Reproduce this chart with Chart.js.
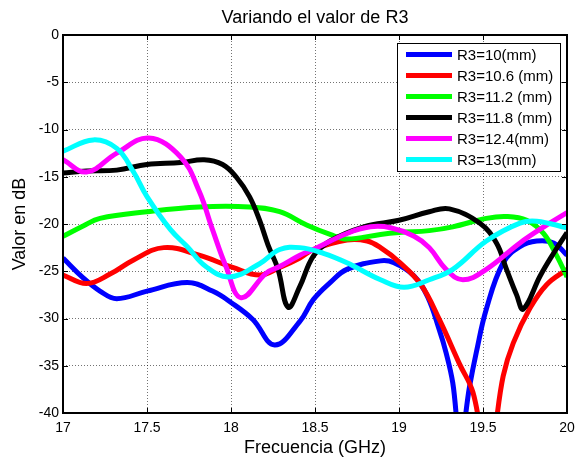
<!DOCTYPE html>
<html>
<head>
<meta charset="utf-8">
<script src="https://cdn.jsdelivr.net/npm/chart.js@4/dist/chart.umd.min.js"></script>
<style>
  html, body { margin: 0; padding: 0; background: #fff; }
  canvas { display: block; }
</style>
</head>
<body>
<canvas id="r3Chart" width="576" height="460"></canvas>
<script>
// Return loss vs frequency for each R3 value (GHz / dB)
const f10 = [17.00, 17.12, 17.22, 17.32, 17.50, 17.74, 17.89, 18.00, 18.13, 18.26, 18.41, 18.49, 18.59, 18.69, 18.89, 18.97, 19.09, 19.17, 19.24, 19.28, 19.32, 19.365, 19.42, 19.46, 19.52, 19.62, 19.72, 19.82, 19.92, 20.00];
const db10 = [-23.6, -25.7, -27.1, -27.9, -27.1, -26.2, -27.1, -28.3, -30.1, -32.8, -30.3, -28.0, -26.2, -24.8, -23.9, -24.1, -25.5, -27.7, -31.2, -33.6, -36.8, -43.0, -37.2, -33.6, -29.0, -24.1, -22.4, -21.8, -22.0, -23.3];

const f106 = [17.00, 17.14, 17.28, 17.42, 17.60, 17.81, 18.01, 18.17, 18.29, 18.41, 18.49, 18.69, 18.81, 18.89, 19.00, 19.13, 19.24, 19.36, 19.44, 19.53, 19.62, 19.68, 19.78, 19.88, 20.00];
const db106 = [-25.4, -26.3, -25.3, -23.8, -22.5, -23.3, -24.6, -25.4, -24.6, -23.6, -22.7, -21.7, -21.8, -22.5, -24.0, -26.4, -30.1, -34.8, -37.8, -45.0, -36.1, -32.6, -28.9, -26.4, -24.8];

const f112 = [17.00, 17.12, 17.22, 17.50, 17.81, 18.11, 18.29, 18.45, 18.59, 18.69, 18.89, 19.00, 19.18, 19.32, 19.52, 19.64, 19.76, 19.86, 19.94, 20.00];
const db112 = [-21.3, -20.2, -19.4, -18.7, -18.2, -18.2, -18.7, -20.1, -21.1, -21.6, -21.1, -20.9, -20.7, -20.3, -19.4, -19.2, -19.6, -21.0, -23.4, -25.6];

const f118 = [17.00, 17.14, 17.32, 17.50, 17.70, 17.84, 17.95, 18.03, 18.11, 18.17, 18.22, 18.28, 18.34, 18.41, 18.49, 18.59, 18.79, 19.00, 19.18, 19.30, 19.48, 19.58, 19.64, 19.70, 19.74, 19.84, 19.92, 20.00];
const db118 = [-14.6, -14.4, -14.3, -13.7, -13.5, -13.2, -13.7, -15.0, -17.1, -19.6, -22.2, -24.8, -28.8, -26.6, -23.4, -21.8, -20.3, -19.6, -18.7, -18.4, -19.9, -22.0, -24.8, -27.5, -29.0, -25.5, -23.1, -20.9];

const f124 = [17.00, 17.14, 17.32, 17.51, 17.70, 17.81, 17.89, 17.97, 18.06, 18.21, 18.29, 18.41, 18.49, 18.69, 18.83, 18.95, 19.09, 19.18, 19.28, 19.38, 19.52, 19.72, 19.88, 20.00];
const db124 = [-13.2, -14.5, -12.5, -10.9, -12.9, -16.5, -20.6, -24.5, -27.8, -25.2, -24.5, -23.3, -22.7, -21.0, -20.3, -20.4, -21.3, -22.5, -24.8, -25.9, -24.8, -22.0, -20.1, -18.8];

const f13 = [17.00, 17.18, 17.32, 17.42, 17.50, 17.64, 17.74, 17.85, 17.99, 18.17, 18.29, 18.41, 18.55, 18.69, 18.89, 19.03, 19.18, 19.32, 19.52, 19.72, 19.82, 20.00];
const db13 = [-12.3, -11.1, -12.0, -14.5, -17.1, -20.6, -22.4, -24.5, -25.6, -24.2, -22.7, -22.5, -23.1, -24.1, -25.9, -26.7, -25.9, -24.8, -21.8, -19.9, -19.7, -20.4];

const seriesLabels = ["R3=10(mm)", "R3=10.6 (mm)", "R3=11.2 (mm)", "R3=11.8 (mm)", "R3=12.4(mm)", "R3=13(mm)"];
const seriesColors = ["#0000ff", "#ff0000", "#00ff00", "#000000", "#ff00ff", "#00ffff"];
const seriesFreq = [f10, f106, f112, f118, f124, f13];
const seriesDb = [db10, db106, db112, db118, db124, db13];

const chartTitle = "Variando el valor de R3";
const FONT = "'Liberation Sans', Arial, sans-serif";

const datasets = seriesLabels.map((label, i) => ({
  label: label,
  data: seriesFreq[i].map((f, j) => ({ x: f, y: seriesDb[i][j] })),
  borderColor: seriesColors[i],
  backgroundColor: seriesColors[i],
  borderWidth: 5,
  pointRadius: 0,
  tension: 0.4,
  clip: 0,
  order: seriesLabels.length - i   // later curves on top
}));

// box around the axes with inward tick marks on all four sides, title centred over the axes
const axesBox = {
  id: "axesBox",
  afterDatasetsDraw(chart) {
    const { ctx, chartArea: a, scales } = chart;
    ctx.save();
    ctx.strokeStyle = "#000";
    ctx.lineWidth = 1;
    ctx.beginPath();
    scales.x.ticks.forEach(t => {
      const px = Math.round(scales.x.getPixelForValue(t.value)) + 0.5;
      ctx.moveTo(px, a.bottom); ctx.lineTo(px, a.bottom - 5);
      ctx.moveTo(px, a.top); ctx.lineTo(px, a.top + 5);
    });
    scales.y.ticks.forEach(t => {
      const py = Math.round(scales.y.getPixelForValue(t.value)) + 0.5;
      ctx.moveTo(a.left, py); ctx.lineTo(a.left + 5, py);
      ctx.moveTo(a.right, py); ctx.lineTo(a.right - 5, py);
    });
    ctx.stroke();
    ctx.lineWidth = 2;
    ctx.strokeRect(a.left, a.top, a.right - a.left, a.bottom - a.top);

    ctx.fillStyle = "#000";
    ctx.font = "18px " + FONT;
    ctx.textAlign = "center";
    ctx.textBaseline = "middle";
    ctx.fillText(chartTitle, (a.left + a.right) / 2, a.top - 17);
    ctx.restore();
  }
};

// legend drawn inside the plot, top right
const boxLegend = {
  id: "boxLegend",
  afterDraw(chart) {
    const { ctx, chartArea: a } = chart;
    const w = 163, h = 128;
    const x0 = a.right - 7 - w, y0 = a.top + 8;
    ctx.save();
    ctx.fillStyle = "#fff";
    ctx.fillRect(x0, y0, w, h);
    ctx.strokeStyle = "#000";
    ctx.lineWidth = 1;
    ctx.strokeRect(x0 + 0.5, y0 + 0.5, w, h);
    ctx.font = "15px " + FONT;
    ctx.textBaseline = "middle";
    ctx.fillStyle = "#000";
    chart.data.datasets.forEach((ds, i) => {
      const y = y0 + 11.5 + i * 21;
      ctx.strokeStyle = ds.borderColor;
      ctx.lineWidth = 5;
      ctx.beginPath();
      ctx.moveTo(x0 + 9, y);
      ctx.lineTo(x0 + 55, y);
      ctx.stroke();
      ctx.fillText(ds.label, x0 + 60, y + 1);
    });
    ctx.restore();
  }
};

new Chart(document.getElementById("r3Chart"), {
  type: "line",
  data: { datasets: datasets },
  options: {
    responsive: false,
    animation: false,
    layout: { padding: { left: 0, right: 9, top: 35, bottom: 0 } },
    plugins: {
      legend: { display: false },
      tooltip: { enabled: false },
      title: { display: false }
    },
    scales: {
      x: {
        type: "linear",
        min: 17,
        max: 20,
        afterFit: s => { s.height = 47; s.paddingLeft = 0; s.paddingRight = 0; },
        ticks: {
          stepSize: 0.5,
          padding: 7,
          color: "#000",
          font: { family: FONT, size: 14 },
          maxRotation: 0,
          callback: v => String(v)
        },
        grid: { color: "rgba(0,0,0,0.55)", drawTicks: false, lineWidth: 1 },
        border: { display: false, dash: [1, 2] },
        title: {
          display: true,
          text: "Frecuencia (GHz)",
          color: "#000",
          font: { family: FONT, size: 18 },
          padding: { top: 0, bottom: 1 }
        }
      },
      y: {
        min: -40,
        max: 0,
        afterFit: s => { s.width = 63; s.paddingTop = 0; s.paddingBottom = 0; },
        ticks: {
          stepSize: 5,
          padding: 4,
          color: "#000",
          font: { family: FONT, size: 14 }
        },
        grid: { color: "rgba(0,0,0,0.55)", drawTicks: false, lineWidth: 1 },
        border: { display: false, dash: [1, 2] },
        title: {
          display: true,
          text: "Valor en dB",
          color: "#000",
          font: { family: FONT, size: 18 },
          padding: { top: 9, bottom: 0 }
        }
      }
    }
  },
  plugins: [axesBox, boxLegend]
});
</script>
</body>
</html>
